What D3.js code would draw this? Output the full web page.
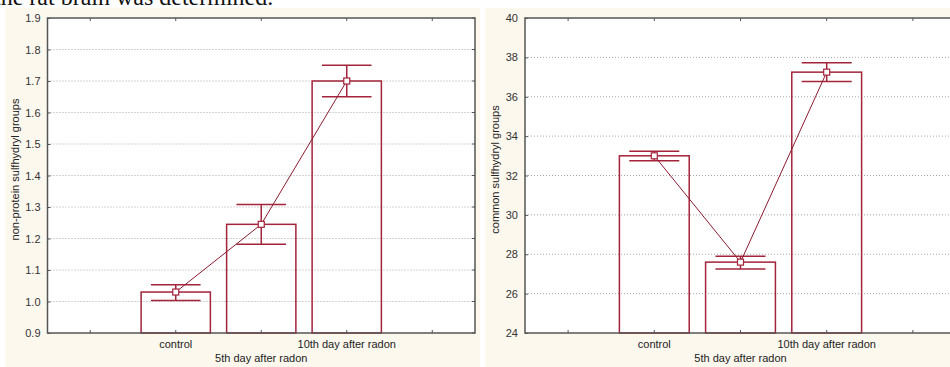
<!DOCTYPE html>
<html>
<head>
<meta charset="utf-8">
<script src="https://cdn.jsdelivr.net/npm/d3@7"></script>
<style>
  body { margin: 0; background: #fff; }
  svg { display: block; }
</style>
</head>
<body>
<div id="chart"></div>
<script>
// categories on the x axis (two empty slots either side)
const slots = ["", "control", "5th day after radon", "10th day after radon", ""];
const groups = ["control", "5th day after radon", "10th day after radon"];

// left panel: non-protein sulfhydryl groups
const npMeans = [1.03, 1.245, 1.70];
const npLow = [1.003, 1.182, 1.65];
const npHigh = [1.053, 1.308, 1.75];
const npTicks = [0.9, 1.0, 1.1, 1.2, 1.3, 1.4, 1.5, 1.6, 1.7, 1.8, 1.9];

// right panel: common sulfhydryl groups
const csMeans = [33.0, 27.6, 37.25];
const csLow = [32.75, 27.25, 36.78];
const csHigh = [33.23, 27.9, 37.73];
const csTicks = [24, 26, 28, 30, 32, 34, 36, 38, 40];

const width = 950, height = 367;
const barColor = "#a3243b";
const lineColor = "#8c1a2e";

const svg = d3.select("#chart").append("svg")
  .attr("width", width)
  .attr("height", height);

// caption text cut off at the top of the scan
svg.append("text")
  .attr("x", -6)
  .attr("y", 5)
  .attr("font-family", "Liberation Serif, Times New Roman, serif")
  .attr("font-size", 24)
  .attr("fill", "#111")
  .text("the rat brain was determined.");

function drawPanel(opts) {
  const { bg, left, right, top, bottom, domain, ticks, fmt, means, low, high, title, titleX } = opts;

  svg.append("rect")
    .attr("x", bg[0]).attr("y", bg[1])
    .attr("width", bg[2]).attr("height", bg[3])
    .attr("fill", "#fcf8ee");

  svg.append("rect")
    .attr("x", left).attr("y", top)
    .attr("width", right - left).attr("height", bottom - top)
    .attr("fill", "#fff");

  const x = d3.scaleBand().domain(d3.range(slots.length)).range([left, right]);
  const y = d3.scaleLinear().domain(domain).range([bottom, top]);

  // dotted grid
  svg.append("g").selectAll("line")
    .data(ticks.slice(1, -1))
    .join("line")
    .attr("x1", left).attr("x2", right)
    .attr("y1", d => y(d)).attr("y2", d => y(d))
    .attr("stroke", "#a8a8a8")
    .attr("stroke-width", 1)
    .attr("stroke-dasharray", "1,2");

  // y axis
  const yAxis = d3.axisLeft(y).tickValues(ticks).tickFormat(fmt).tickSize(3).tickPadding(4);
  const gy = svg.append("g").attr("transform", `translate(${left},0)`).call(yAxis);
  gy.select(".domain").remove();
  gy.selectAll(".tick line").attr("x2", 3).attr("x1", 0).attr("stroke", "#555");
  gy.selectAll("text")
    .attr("font-family", "Liberation Sans, Arial, sans-serif")
    .attr("font-size", 11).attr("fill", "#333");

  // right side ticks
  svg.append("g").selectAll("line")
    .data(ticks)
    .join("line")
    .attr("x1", right - 3).attr("x2", right)
    .attr("y1", d => y(d)).attr("y2", d => y(d))
    .attr("stroke", "#555");

  // x ticks top and bottom at slot centers
  const centers = d3.range(slots.length).map(i => x(i) + x.bandwidth() / 2);
  svg.append("g").selectAll("line")
    .data(centers)
    .join("line")
    .attr("x1", d => d).attr("x2", d => d)
    .attr("y1", bottom).attr("y2", bottom - 3)
    .attr("stroke", "#555");
  svg.append("g").selectAll("line")
    .data(centers)
    .join("line")
    .attr("x1", d => d).attr("x2", d => d)
    .attr("y1", top).attr("y2", top + 3)
    .attr("stroke", "#555");

  // bars
  const bw = x.bandwidth() * 0.81;
  const cx = i => x(i + 1) + x.bandwidth() / 2;
  svg.append("g").selectAll("rect")
    .data(means)
    .join("rect")
    .attr("x", (d, i) => cx(i) - bw / 2)
    .attr("y", d => y(d))
    .attr("width", bw)
    .attr("height", d => bottom - y(d))
    .attr("fill", "none")
    .attr("stroke", barColor)
    .attr("stroke-width", 1.5);

  // error bars
  const capW = x.bandwidth() * 0.58;
  const eg = svg.append("g").attr("stroke", barColor).attr("stroke-width", 1.5);
  means.forEach((m, i) => {
    eg.append("line")
      .attr("x1", cx(i)).attr("x2", cx(i))
      .attr("y1", y(low[i])).attr("y2", y(high[i]));
    eg.append("line")
      .attr("x1", cx(i) - capW / 2).attr("x2", cx(i) + capW / 2)
      .attr("y1", y(low[i])).attr("y2", y(low[i]));
    eg.append("line")
      .attr("x1", cx(i) - capW / 2).attr("x2", cx(i) + capW / 2)
      .attr("y1", y(high[i])).attr("y2", y(high[i]));
  });

  // line through the means
  svg.append("path")
    .datum(means)
    .attr("d", d3.line().x((d, i) => cx(i)).y(d => y(d)))
    .attr("fill", "none")
    .attr("stroke", lineColor)
    .attr("stroke-width", 1);

  svg.append("g").selectAll("rect")
    .data(means)
    .join("rect")
    .attr("x", (d, i) => cx(i) - 3)
    .attr("y", d => y(d) - 3)
    .attr("width", 6).attr("height", 6)
    .attr("fill", "#fff")
    .attr("stroke", barColor)
    .attr("stroke-width", 1.2);

  // frame
  svg.append("rect")
    .attr("x", left).attr("y", top)
    .attr("width", right - left).attr("height", bottom - top)
    .attr("fill", "none")
    .attr("stroke", "#555")
    .attr("stroke-width", 1.5);

  // category labels, alternating rows
  svg.append("g").selectAll("text")
    .data(groups)
    .join("text")
    .attr("x", (d, i) => cx(i))
    .attr("y", (d, i) => i % 2 === 0 ? bottom + 15 : bottom + 29)
    .attr("text-anchor", "middle")
    .attr("font-family", "Liberation Sans, Arial, sans-serif")
    .attr("font-size", 11)
    .attr("fill", "#222")
    .text(d => d);

  svg.append("text")
    .attr("transform", `translate(${titleX},${(top + bottom) / 2 - 6}) rotate(-90)`)
    .attr("text-anchor", "middle")
    .attr("font-family", "Liberation Sans, Arial, sans-serif")
    .attr("font-size", 11)
    .attr("fill", "#222")
    .text(title);
}

drawPanel({
  bg: [5, 8, 475, 359],
  left: 47.5, right: 475, top: 18, bottom: 333,
  domain: [0.9, 1.9], ticks: npTicks, fmt: d3.format(".1f"),
  means: npMeans, low: npLow, high: npHigh,
  title: "non-protein sulfhydryl groups", titleX: 19
});

drawPanel({
  bg: [485, 8, 465, 359],
  left: 525, right: 956, top: 18, bottom: 333,
  domain: [24, 40], ticks: csTicks, fmt: d3.format("d"),
  means: csMeans, low: csLow, high: csHigh,
  title: "common sulfhydryl groups", titleX: 499
});
</script>
</body>
</html>
